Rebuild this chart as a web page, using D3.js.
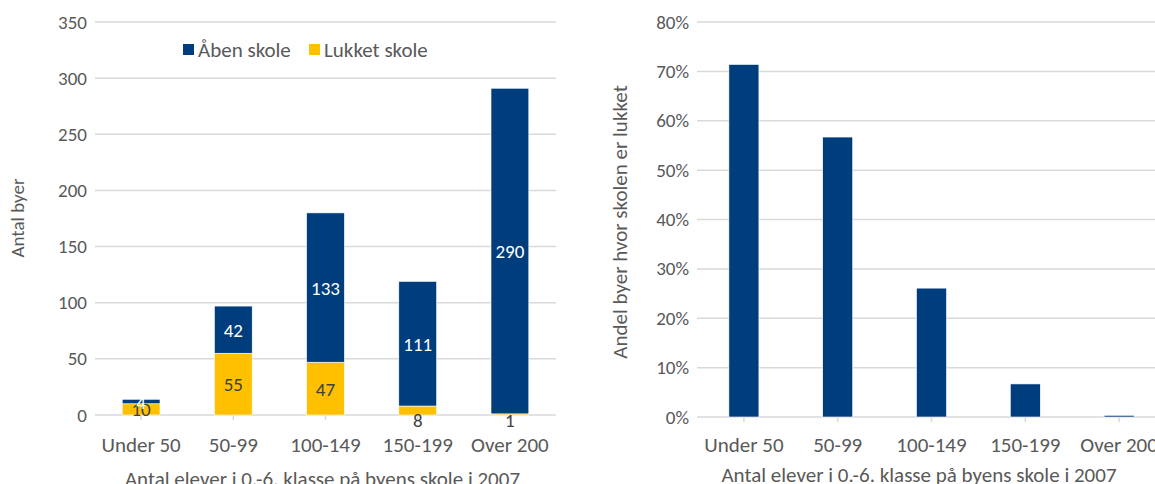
<!DOCTYPE html>
<html>
<head>
<meta charset="utf-8">
<script src="https://cdn.jsdelivr.net/npm/d3@7"></script>
<style>
	body { margin: 0; background: #fff; }
	svg text { font-family: Carlito, Calibri, Lato, sans-serif; fill: #595959; }
</style>
</head>
<body>
<div id="chart"></div>
<script>
// data
const categories = ['Under 50', '50-99', '100-149', '150-199', 'Over 200'];
const closedSchool = [10, 55, 47, 8, 1];
const openSchool = [4, 42, 133, 111, 290];
const shareClosed = [0.714, 0.567, 0.261, 0.067, 0.0034];
const countTicks = [0, 50, 100, 150, 200, 250, 300, 350];
const shareTicks = [0, 0.1, 0.2, 0.3, 0.4, 0.5, 0.6, 0.7, 0.8];
const seriesNames = ['Åben skole', 'Lukket skole'];
const xTitle = 'Antal elever i 0.-6. klasse på byens skole i 2007';

const blue = '#003d7c',
	yellow = '#ffc000',
	grid = '#d9d9d9';

const svg = d3
	.select('#chart')
	.append('svg')
	.attr('width', 1155)
	.attr('height', 484);

// ---- left chart: stacked counts ----
const left = { x0: 95, x1: 556, y0: 415, y1: 22 };

const x1 = d3.scaleBand().domain(categories).range([left.x0, left.x1]).paddingInner(0.59).paddingOuter(0.295);
const y1 = d3.scaleLinear().domain([0, 350]).range([left.y0, left.y1]);

const gl = svg.append('g');

gl.selectAll('line.grid')
	.data(countTicks)
	.join('line')
	.attr('x1', left.x0)
	.attr('x2', left.x1)
	.attr('y1', (d) => y1(d))
	.attr('y2', (d) => y1(d))
	.attr('stroke', grid)
	.attr('stroke-width', 1.5);

gl.append('g')
	.attr('transform', `translate(${left.x0 - 2},0)`)
	.call(d3.axisLeft(y1).tickValues(countTicks).tickSize(0).tickPadding(6))
	.call((g) => g.select('.domain').remove())
	.selectAll('text')
	.style('font-size', '19px')
	.attr('fill', '#595959');

// category ticks at band centres
gl.selectAll('line.ctick')
	.data(categories)
	.join('line')
	.attr('x1', (d) => x1(d) + x1.bandwidth() / 2)
	.attr('x2', (d) => x1(d) + x1.bandwidth() / 2)
	.attr('y1', left.y0)
	.attr('y2', left.y0 + 5)
	.attr('stroke', grid)
	.attr('stroke-width', 1.5);

const stackData = categories.map((c, i) => ({ cat: c, closed: closedSchool[i], open: openSchool[i] }));
const stack = d3.stack().keys(['closed', 'open'])(stackData);
const colors = { closed: yellow, open: blue };

gl.selectAll('g.layer')
	.data(stack)
	.join('g')
	.attr('fill', (d) => colors[d.key])
	.selectAll('rect')
	.data((d) => d)
	.join('rect')
	.attr('x', (d) => x1(d.data.cat))
	.attr('width', x1.bandwidth())
	.attr('y', (d) => y1(d[1]))
	.attr('height', (d) => y1(d[0]) - y1(d[1]))
	.attr('stroke', '#fff')
	.attr('stroke-width', 0.6);

// value labels (tiny closed segments get their label just under the axis)
stack.forEach((layer) => {
	gl.selectAll(null)
		.data(layer)
		.join('text')
		.attr('x', (d) => x1(d.data.cat) + x1.bandwidth() / 2)
		.attr('y', (d) => {
			const v = d[1] - d[0];
			if (layer.key === 'closed' && v < 10) return left.y0 + 12;
			return (y1(d[0]) + y1(d[1])) / 2 + 7;
		})
		.attr('text-anchor', 'middle')
		.style('font-size', '19px')
		.style('fill', layer.key === 'open' ? '#fff' : '#404040')
		.text((d) => d[1] - d[0]);
});

gl.append('g')
	.selectAll('text')
	.data(categories)
	.join('text')
	.attr('x', (d) => x1(d) + x1.bandwidth() / 2)
	.attr('y', 452)
	.attr('text-anchor', 'middle')
	.style('font-size', '21px')
	.text((d) => d);

gl.append('text')
	.attr('x', (left.x0 + left.x1) / 2 - 3)
	.attr('y', 486)
	.attr('text-anchor', 'middle')
	.style('font-size', '21px')
	.text(xTitle);

gl.append('text')
	.attr('transform', 'translate(24,218) rotate(-90)')
	.attr('text-anchor', 'middle')
	.style('font-size', '19px')
	.text('Antal byer');

// legend
const legend = gl.append('g').attr('transform', 'translate(183,44)');
const legendItems = [
	{ name: seriesNames[0], color: blue, x: 0 },
	{ name: seriesNames[1], color: yellow, x: 126 },
];
legend
	.selectAll('rect')
	.data(legendItems)
	.join('rect')
	.attr('x', (d) => d.x)
	.attr('y', 0)
	.attr('width', 11)
	.attr('height', 11)
	.attr('fill', (d) => d.color);
legend
	.selectAll('text')
	.data(legendItems)
	.join('text')
	.attr('x', (d) => d.x + 15)
	.attr('y', 13)
	.style('font-size', '21px')
	.text((d) => d.name);

// ---- right chart: share closed ----
const right = { x0: 697, x1: 1166, y0: 417, y1: 22 };
const x2 = d3.scaleBand().domain(categories).range([right.x0, right.x1]).paddingInner(0.68).paddingOuter(0.34);
const y2 = d3.scaleLinear().domain([0, 0.8]).range([right.y0, right.y1]);

const gr = svg.append('g');

gr.selectAll('line.grid')
	.data(shareTicks)
	.join('line')
	.attr('x1', right.x0)
	.attr('x2', right.x1)
	.attr('y1', (d) => y2(d))
	.attr('y2', (d) => y2(d))
	.attr('stroke', grid)
	.attr('stroke-width', 1.5);

gr.append('g')
	.attr('transform', `translate(${right.x0 - 2},0)`)
	.call(d3.axisLeft(y2).tickValues(shareTicks).tickFormat(d3.format('.0%')).tickSize(0).tickPadding(6))
	.call((g) => g.select('.domain').remove())
	.selectAll('text')
	.style('font-size', '19px')
	.attr('fill', '#595959');

gr.selectAll('line.ctick')
	.data(categories)
	.join('line')
	.attr('x1', (d) => x2(d) + x2.bandwidth() / 2)
	.attr('x2', (d) => x2(d) + x2.bandwidth() / 2)
	.attr('y1', right.y0)
	.attr('y2', right.y0 + 5)
	.attr('stroke', grid)
	.attr('stroke-width', 1.5);

gr.selectAll('rect')
	.data(categories.map((c, i) => ({ cat: c, v: shareClosed[i] })))
	.join('rect')
	.attr('x', (d) => x2(d.cat))
	.attr('width', x2.bandwidth())
	.attr('y', (d) => y2(d.v))
	.attr('height', (d) => y2(0) - y2(d.v))
	.attr('fill', blue)
	.attr('stroke', '#fff')
	.attr('stroke-width', 0.6);

gr.append('g')
	.selectAll('text')
	.data(categories)
	.join('text')
	.attr('x', (d) => x2(d) + x2.bandwidth() / 2)
	.attr('y', 452)
	.attr('text-anchor', 'middle')
	.style('font-size', '21px')
	.text((d) => d);

gr.append('text')
	.attr('x', 919)
	.attr('y', 482)
	.attr('text-anchor', 'middle')
	.style('font-size', '21px')
	.text(xTitle);

gr.append('text')
	.attr('transform', 'translate(627,222) rotate(-90)')
	.attr('text-anchor', 'middle')
	.style('font-size', '21px')
	.text('Andel byer hvor skolen er lukket');
</script>
</body>
</html>
